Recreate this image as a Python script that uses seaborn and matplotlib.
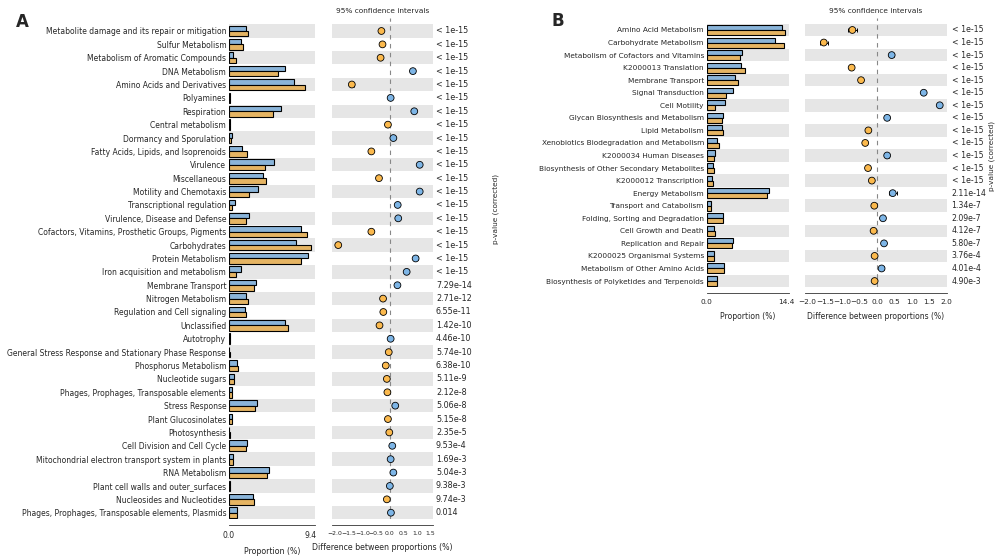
import numpy as np
import pandas as pd
import matplotlib
matplotlib.use('Agg')
import matplotlib.pyplot as plt
import seaborn as sns
from matplotlib.transforms import blended_transform_factory

# ---------------- Panel A data ----------------
a_categories = [
    "Metabolite damage and its repair or mitigation", "Sulfur Metabolism",
    "Metabolism of Aromatic Compounds", "DNA Metabolism", "Amino Acids and Derivatives",
    "Polyamines", "Respiration", "Central metabolism", "Dormancy and Sporulation",
    "Fatty Acids, Lipids, and Isoprenoids", "Virulence", "Miscellaneous",
    "Motility and Chemotaxis", "Transcriptional regulation", "Virulence, Disease and Defense",
    "Cofactors, Vitamins, Prosthetic Groups, Pigments", "Carbohydrates", "Protein Metabolism",
    "Iron acquisition and metabolism", "Membrane Transport", "Nitrogen Metabolism",
    "Regulation and Cell signaling", "Unclassified", "Autotrophy",
    "General Stress Response and Stationary Phase Response", "Phosphorus Metabolism",
    "Nucleotide sugars", "Phages, Prophages, Transposable elements", "Stress Response",
    "Plant Glucosinolates", "Photosynthesis", "Cell Division and Cell Cycle",
    "Mitochondrial electron transport system in plants", "RNA Metabolism",
    "Plant cell walls and outer_surfaces", "Nucleosides and Nucleotides",
    "Phages, Prophages, Transposable elements, Plasmids",
]
a_group1 = [1.97, 1.35, 0.43, 6.54, 7.54, 0.12, 6.00, 0.10, 0.35, 1.47, 5.26, 3.90, 3.37,
            0.70, 2.32, 8.39, 7.81, 9.20, 1.39, 3.13, 2.00, 1.82, 6.50, 0.10, 0.05, 0.97,
            0.54, 0.33, 3.20, 0.30, 0.05, 2.13, 0.50, 4.60, 0.08, 2.78, 0.89]
a_group2 = [2.24, 1.62, 0.85, 5.69, 8.82, 0.10, 5.10, 0.12, 0.23, 2.05, 4.18, 4.26, 2.32,
            0.31, 2.00, 9.00, 9.55, 8.36, 0.85, 2.86, 2.20, 1.97, 6.85, 0.10, 0.06, 1.08,
            0.62, 0.35, 3.00, 0.32, 0.06, 2.00, 0.50, 4.45, 0.07, 2.90, 0.89]
a_diff = [-0.30, -0.26, -0.33, 0.86, -1.39, 0.04, 0.91, -0.06, 0.14, -0.67, 1.11, -0.39,
          1.11, 0.30, 0.32, -0.67, -1.89, 0.96, 0.63, 0.29, -0.24, -0.23, -0.37, 0.04,
          -0.03, -0.14, -0.10, -0.08, 0.21, -0.06, -0.01, 0.10, 0.04, 0.14, 0.01, -0.10, 0.05]
a_ci = [0.03, 0.03, 0.03, 0.06, 0.07, 0.02, 0.06, 0.02, 0.03, 0.04, 0.05, 0.05, 0.05, 0.03,
        0.03, 0.06, 0.07, 0.07, 0.04, 0.04, 0.04, 0.04, 0.06, 0.02, 0.02, 0.03, 0.03, 0.02,
        0.05, 0.02, 0.02, 0.04, 0.03, 0.05, 0.02, 0.04, 0.03]
a_pvalues = ["< 1e-15"] * 19 + ["7.29e-14", "2.71e-12", "6.55e-11", "1.42e-10", "4.46e-10",
                                "5.74e-10", "6.38e-10", "5.11e-9", "2.12e-8", "5.06e-8",
                                "5.15e-8", "2.35e-5", "9.53e-4", "1.69e-3", "5.04e-3",
                                "9.38e-3", "9.74e-3", "0.014"]
a_bar_max = 9.4
a_diff_ticks = [-2.0, -1.5, -1.0, -0.5, 0.0, 0.5, 1.0, 1.5]

# ---------------- Panel B data ----------------
b_categories = [
    "Amino Acid Metabolism", "Carbohydrate Metabolism", "Metabolism of Cofactors and Vitamins",
    "K2000013 Translation", "Membrane Transport", "Signal Transduction", "Cell Motility",
    "Glycan Biosynthesis and Metabolism", "Lipid Metabolism",
    "Xenobiotics Biodegradation and Metabolism", "K2000034 Human Diseases",
    "Biosynthesis of Other Secondary Metabolites", "K2000012 Transcription",
    "Energy Metabolism", "Transport and Catabolism", "Folding, Sorting and Degradation",
    "Cell Growth and Death", "Replication and Repair", "K2000025 Organismal Systems",
    "Metabolism of Other Amino Acids", "Biosynthesis of Polyketides and Terpenoids",
]
b_group1 = [13.50, 12.36, 6.42, 6.18, 5.16, 4.68, 3.24, 2.88, 2.70, 1.86, 1.56, 1.20, 0.96,
            11.28, 0.78, 3.00, 1.38, 4.80, 1.38, 3.12, 1.86]
b_group2 = [14.16, 13.86, 6.00, 6.90, 5.58, 3.42, 1.56, 2.70, 3.00, 2.16, 1.32, 1.38, 1.08,
            10.86, 0.84, 2.88, 1.44, 4.62, 1.38, 3.12, 1.86]
b_diff = [-0.71, -1.53, 0.42, -0.73, -0.46, 1.34, 1.80, 0.29, -0.25, -0.34, 0.29, -0.26,
          -0.15, 0.45, -0.08, 0.17, -0.10, 0.20, -0.07, 0.13, -0.07]
b_ci = [0.12, 0.12, 0.06, 0.05, 0.05, 0.04, 0.04, 0.04, 0.04, 0.04, 0.04, 0.04, 0.04, 0.12,
        0.03, 0.05, 0.04, 0.06, 0.04, 0.06, 0.04]
b_pvalues = ["< 1e-15"] * 13 + ["2.11e-14", "1.34e-7", "2.09e-7", "4.12e-7", "5.80e-7",
                                "3.76e-4", "4.01e-4", "4.90e-3"]
b_bar_max = 14.4
b_diff_ticks = [-2.0, -1.5, -1.0, -0.5, 0.0, 0.5, 1.0, 1.5, 2.0]

BLUE = '#7DB5E6'
ORANGE = '#FBB94D'
BAND = '#E6E6E6'

sns.set_style('white')
plt.rcParams['font.family'] = ['DejaVu Sans']

fig = plt.figure(figsize=(10, 5.56), dpi=100)
W, H = 1000.0, 556.0


def rect(x0, y_top, x1, y_bot):
    return [x0 / W, 1 - y_bot / H, (x1 - x0) / W, (y_bot - y_top) / H]


def style_axis(ax, fs):
    for s in ('left', 'top', 'right'):
        ax.spines[s].set_visible(False)
    ax.spines['bottom'].set_position(('outward', 4))
    ax.spines['bottom'].set_linewidth(0.6)
    ax.spines['bottom'].set_color('#333333')
    ax.tick_params(axis='x', length=2.5, width=0.6, labelsize=fs, pad=2, color='#333333')
    ax.tick_params(axis='y', length=0)


def panel(cats, g1, g2, diff, ci, pvals, bar_max, dticks,
          bar_px, diff_px, y_top, y_band_top, y_bot, bar_xmax, diff_xlim,
          pv_x, plabel_xy, letter, letter_xy, fs, dtick_fs):
    n = len(cats)
    spacing = (y_bot - y_band_top) / n
    ytop_data = -0.5 - (y_band_top - y_top) / spacing

    ax_b = fig.add_axes(rect(bar_px[0], y_top, bar_px[1], y_bot))
    ax_d = fig.add_axes(rect(diff_px[0], y_top, diff_px[1], y_bot))

    df = pd.DataFrame({
        'cat': list(cats) * 2,
        'grp': ['s1'] * n + ['s2'] * n,
        'val': list(g1) + list(g2),
    })
    sns.barplot(data=df, y='cat', x='val', hue='grp', order=cats, hue_order=['s1', 's2'],
                palette=[BLUE, ORANGE], orient='h', width=0.8, edgecolor='black',
                linewidth=0.8, errorbar=None, legend=False, ax=ax_b, zorder=2)

    for ax in (ax_b, ax_d):
        for i in range(0, n, 2):
            ax.axhspan(i - 0.5, i + 0.5, color=BAND, lw=0, zorder=0)
        ax.set_ylim(n - 0.5, ytop_data)
        style_axis(ax, fs)

    ax_b.set_xlim(0, bar_xmax)
    ax_b.set_xticks([0, bar_max])
    ax_b.set_xticklabels(['0.0', f'{bar_max:.1f}'])
    ax_b.set_ylabel('')
    ax_b.set_xlabel('Proportion (%)', fontsize=fs + 0.2, labelpad=5)
    ax_b.set_yticks(range(n))
    ax_b.set_yticklabels(cats, fontsize=fs)
    ax_b.tick_params(axis='y', pad=2)

    ypos = np.arange(n)
    dvals = np.array(diff)
    ax_d.axvline(0, color='#888888', lw=0.8, ls=(0, (4, 4)), zorder=1)
    ax_d.errorbar(dvals, ypos, xerr=np.array(ci), fmt='none', ecolor='black',
                  elinewidth=0.7, capsize=1.6, capthick=0.7, zorder=3)
    ddf = pd.DataFrame({'d': dvals, 'y': ypos,
                        'side': np.where(dvals > 0, 'pos', 'neg')})
    sns.scatterplot(data=ddf, x='d', y='y', hue='side', hue_order=['pos', 'neg'],
                    palette=[BLUE, ORANGE], s=24, edgecolor='black', linewidth=0.6,
                    legend=False, ax=ax_d, zorder=4)
    ax_d.set_xlim(*diff_xlim)
    ax_d.set_ylim(n - 0.5, ytop_data)
    ax_d.set_xticks(dticks)
    ax_d.set_xticklabels([f'{t:.1f}'.replace('-', '\u2212') for t in dticks],
                         fontsize=dtick_fs)
    ax_d.set_yticks([])
    ax_d.set_ylabel('')
    ax_d.set_xlabel('Difference between proportions (%)', fontsize=fs + 0.2, labelpad=5)

    cx = (diff_px[0] + diff_px[1]) / 2 / W
    fig.text(cx, 1 - 10.7 / H, '95% confidence intervals', fontsize=5.3,
             ha='center', va='center')

    tr = blended_transform_factory(fig.transFigure, ax_d.transData)
    for i, p in enumerate(pvals):
        ax_d.text(pv_x / W, i, p, transform=tr, fontsize=fs + 0.3, ha='left',
                  va='center', clip_on=False)

    fig.text(plabel_xy[0] / W, 1 - plabel_xy[1] / H, 'p-value (corrected)',
             rotation=90, fontsize=5.3, ha='center', va='center')
    fig.text(letter_xy[0] / W, 1 - letter_xy[1] / H, letter, fontsize=12,
             fontweight='bold', ha='center', va='center')


panel(a_categories, a_group1, a_group2, a_diff, a_ci, a_pvalues, a_bar_max, a_diff_ticks,
      bar_px=(229, 315), diff_px=(332, 433), y_top=18, y_band_top=24.3, y_bot=519.4,
      bar_xmax=9.97, diff_xlim=(-2.12, 1.6), pv_x=436, plabel_xy=(496, 209),
      letter='A', letter_xy=(22, 22), fs=5.5, dtick_fs=4.4)

panel(b_categories, b_group1, b_group2, b_diff, b_ci, b_pvalues, b_bar_max, b_diff_ticks,
      bar_px=(706.7, 788.7), diff_px=(805, 946.7), y_top=18.3, y_band_top=23.7,
      y_bot=287.3, bar_xmax=14.76, diff_xlim=(-2.07, 2.0), pv_x=951.5,
      plabel_xy=(991.7, 156), letter='B', letter_xy=(558, 21), fs=5.3, dtick_fs=5.3)

fig.savefig('out.png', dpi=100)
